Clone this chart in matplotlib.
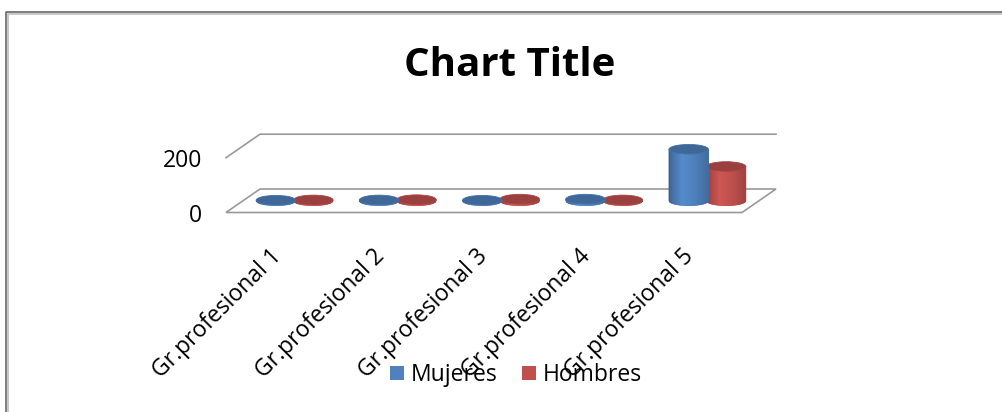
import numpy as np
import matplotlib
matplotlib.use("Agg")
import matplotlib.pyplot as plt
from matplotlib.patches import Polygon, Ellipse, Patch
from matplotlib.lines import Line2D
from matplotlib.colors import to_rgb

# ---- data ----
categories = ["Gr.profesional 1", "Gr.profesional 2", "Gr.profesional 3",
              "Gr.profesional 4", "Gr.profesional 5"]
series_names = ["Mujeres", "Hombres"]
mujeres = [2, 3, 2, 6, 188]
hombres = [3, 4, 6, 3, 125]
y_ticks = [0, 200]

colors = {"Mujeres": "#4F81BD", "Hombres": "#C0504D"}

plt.rcParams["font.family"] = ["Open Sans", "DejaVu Sans"]
LABEL_SIZE = 16.5

W, H = 1003, 412
fig = plt.figure(figsize=(W / 100, H / 100), dpi=100)

# front plane of the 3-D plot area (pixels)
PL, PR, P0, PTOP = 226, 742, 212.5, 157.7
ax = fig.add_axes([PL / W, 1 - P0 / H, (PR - PL) / W, (P0 - PTOP) / H])
ax.set_xlim(-0.5, len(categories) - 0.5)
ax.set_ylim(0, y_ticks[-1])
for s in ax.spines.values():
    s.set_visible(False)

px_x = (PR - PL) / len(categories)       # pixels per category
px_y = (P0 - PTOP) / y_ticks[-1]         # pixels per value unit
DX = 34 / px_x                            # depth offset (x, data units)
DY = 23.5 / px_y                          # depth offset (y, data units)
RX = 19.7 / px_x                          # cylinder radius (x)
RY = 4.8 / px_y                           # cylinder ellipse half-height (y)
OFFS = 18.7 / px_x                        # series offset from group centre

grid_col = "#999999"
x_lo, x_hi = -0.5, len(categories) - 0.5

# floor
floor = Polygon([(x_lo, 0), (x_hi, 0), (x_hi + DX, DY), (x_lo + DX, DY)],
                closed=True, facecolor="white", edgecolor=grid_col,
                lw=1.2, clip_on=False, zorder=1)
ax.add_patch(floor)
# gridline(s) above the floor: side diagonal + back wall line
for v in y_ticks[1:]:
    ax.add_line(Line2D([x_lo, x_lo + DX, x_hi + DX], [v, v + DY, v + DY],
                       color=grid_col, lw=1.2, clip_on=False, zorder=1))

stops = [0.0, 0.08, 0.35, 0.7, 1.0]
factors = [0.72, 0.86, 1.08, 0.98, 0.84]


def cylinder(xc, value, base_color, z, nstrip=60):
    base = np.array(to_rgb(base_color))
    y0 = DY / 2
    yt = y0 + value
    xs = np.linspace(xc - RX, xc + RX, nstrip + 1)

    def lower(x):
        return y0 - RY * np.sqrt(max(0.0, 1 - ((x - xc) / RX) ** 2))

    for k in range(nstrip):
        xa, xb = xs[k], xs[k + 1]
        t = ((xa + xb) / 2 - (xc - RX)) / (2 * RX)
        col = np.clip(base * np.interp(t, stops, factors), 0, 1)
        ax.add_patch(Polygon([(xa, lower(xa)), (xb, lower(xb)), (xb, yt), (xa, yt)],
                             closed=True, facecolor=col, edgecolor=col, lw=0.6,
                             clip_on=False, zorder=z))
    top = np.clip(base * 0.8, 0, 1)
    ax.add_patch(Ellipse((xc, yt), 2 * RX, 2 * RY, facecolor=top,
                         edgecolor=np.clip(base * 0.88, 0, 1), lw=0.6,
                         clip_on=False, zorder=z + 0.5))


values = {"Mujeres": mujeres, "Hombres": hombres}
for i in range(len(categories)):
    gx = i + DX / 2
    cylinder(gx + OFFS, values["Hombres"][i], colors["Hombres"], 3 + i * 2)
    cylinder(gx - OFFS, values["Mujeres"][i], colors["Mujeres"], 4 + i * 2)

# axes ticks and labels
ax.set_yticks(y_ticks)
ax.set_yticklabels([str(v) for v in y_ticks])
ax.tick_params(axis="y", length=0, pad=17, labelsize=LABEL_SIZE)
ax.set_xticks(range(len(categories)))
ax.set_xticklabels(categories)
ax.tick_params(axis="x", length=0, pad=29, labelsize=LABEL_SIZE)
plt.setp(ax.get_xticklabels(), rotation=45, ha="right", va="center",
         rotation_mode="anchor")

fig.text(510 / W, 1 - 65 / H, "Chart Title", ha="center", va="center",
         fontsize=29, fontweight="bold")

handles = [Patch(facecolor=colors[n], edgecolor="none", label=n) for n in series_names]
fig.legend(handles=handles, loc="center", bbox_to_anchor=(516 / W, 1 - 375 / H),
           ncol=2, frameon=False, fontsize=LABEL_SIZE, handlelength=0.62,
           handleheight=0.62, handletextpad=0.3, columnspacing=1.05, borderpad=0)

# chart frame (left and top edges)
fx, fy = 6 / W, 1 - 12 / H
fig.add_artist(Line2D([fx, fx, 1], [0, fy, fy], color="#5a5a5a", lw=1.1))
fx2, fy2 = 8 / W, 1 - 14 / H
fig.add_artist(Line2D([fx2, fx2, 1], [0, fy2, fy2], color="#c8c8c8", lw=1.4))

fig.savefig("out.png", dpi=100)
